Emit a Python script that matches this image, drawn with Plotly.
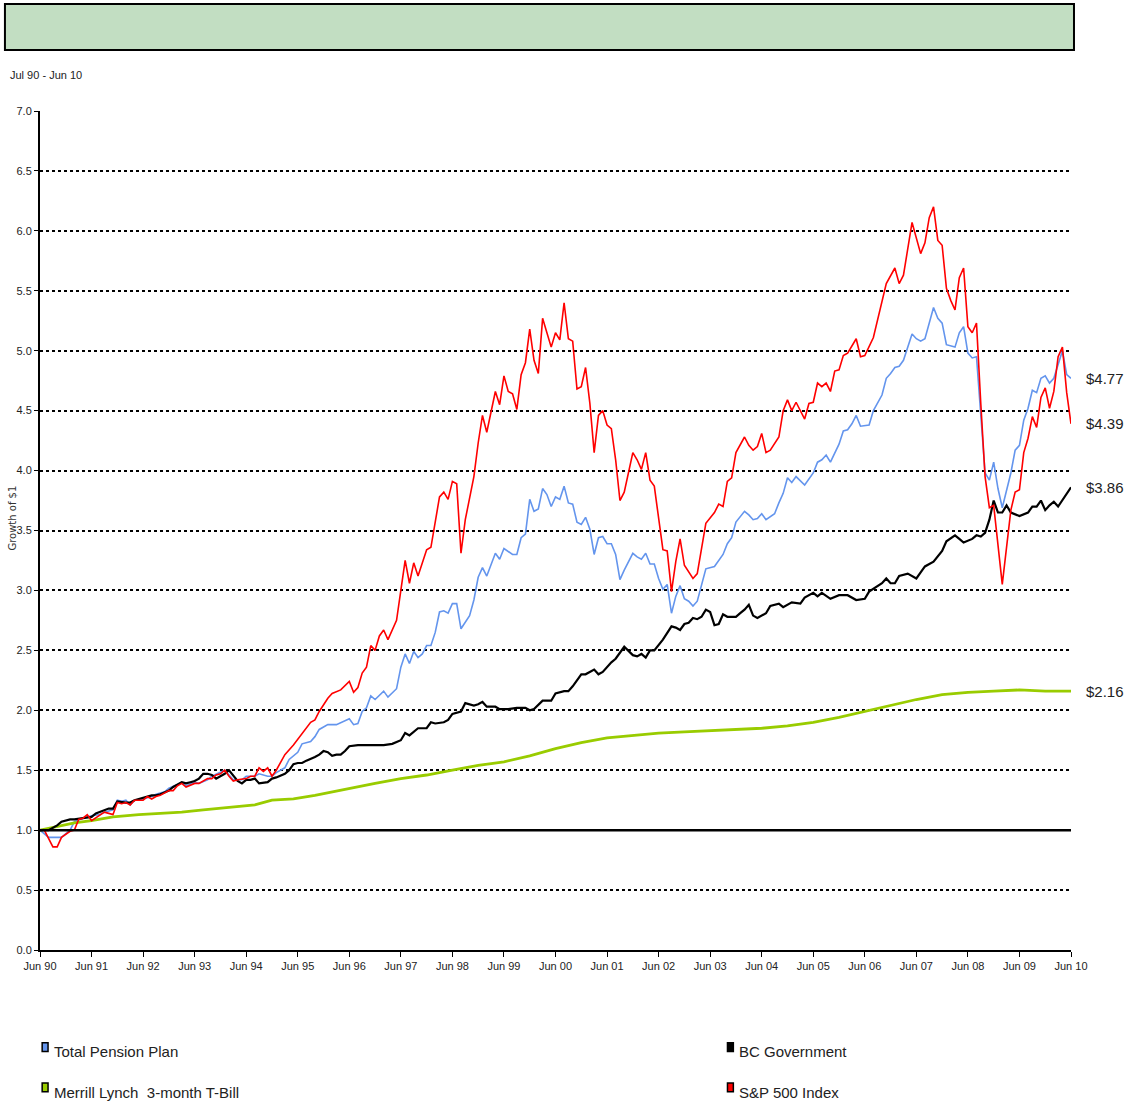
import plotly.graph_objects as go

# ---------------- data (month index: 0 = Jun 90 ... 240 = Jun 10) ----------------
TICK_MONTHS = [0, 12, 24, 36, 48, 60, 72, 84, 96, 108, 120, 132, 144, 156, 168, 180, 192, 204, 216, 228, 240]
TICK_LABELS = ["Jun 90", "Jun 91", "Jun 92", "Jun 93", "Jun 94", "Jun 95", "Jun 96", "Jun 97",
               "Jun 98", "Jun 99", "Jun 00", "Jun 01", "Jun 02", "Jun 03", "Jun 04", "Jun 05",
               "Jun 06", "Jun 07", "Jun 08", "Jun 09", "Jun 10"]

SP500 = [(0,1.00),(1,1.00),(3,0.86),(4,0.86),(5,0.94),(7,0.99),(8,1.00),(9,1.09),(10,1.10),(11,1.13),
         (12,1.08),(14,1.13),(15,1.15),(16,1.14),(17,1.13),(18,1.23),(19,1.22),(20,1.23),(21,1.21),(22,1.25),
         (24,1.25),(25,1.28),(26,1.26),(27,1.28),(28,1.29),(30,1.33),(31,1.33),(32,1.37),(33,1.39),(34,1.36),
         (36,1.39),(37,1.39),(39,1.43),(40,1.43),(41,1.46),(42,1.47),(43,1.50),(44,1.45),(45,1.41),(46,1.42),
         (48,1.43),(49,1.45),(50,1.45),(51,1.52),(52,1.49),(53,1.52),(54,1.45),(55,1.50),(56,1.56),(57,1.63),
         (59,1.71),(60,1.76),(62,1.86),(63,1.90),(64,1.92),(65,1.99),(67,2.10),(68,2.14),(70,2.17),(72,2.24),
         (73,2.15),(74,2.19),(75,2.31),(76,2.36),(77,2.54),(78,2.50),(79,2.62),(80,2.67),(81,2.59),(83,2.75),
         (84,3.00),(85,3.25),(86,3.06),(87,3.23),(88,3.12),(90,3.34),(91,3.36),(92,3.56),(93,3.78),(94,3.82),
         (95,3.76),(96,3.91),(97,3.89),(98,3.31),(99,3.59),(101,3.95),(102,4.23),(103,4.46),(104,4.32),(106,4.66),
         (107,4.55),(108,4.79),(109,4.66),(110,4.64),(111,4.51),(112,4.80),(113,4.90),(114,5.18),(115,4.92),(116,4.81),
         (117,5.27),(118,5.15),(119,5.03),(120,5.15),(121,5.09),(122,5.40),(123,5.10),(124,5.08),(125,4.68),(126,4.70),
         (127,4.86),(128,4.56),(129,4.15),(130,4.46),(131,4.50),(132,4.38),(133,4.35),(134,4.09),(135,3.75),(136,3.82),
         (138,4.15),(139,4.09),(140,4.01),(141,4.15),(142,3.92),(143,3.87),(145,3.34),(146,3.33),(147,2.99),(148,3.24),
         (149,3.43),(150,3.21),(151,3.15),(152,3.10),(153,3.14),(154,3.34),(155,3.56),(157,3.65),(158,3.72),(159,3.70),
         (160,3.91),(161,3.94),(162,4.15),(164,4.28),(165,4.21),(166,4.17),(167,4.20),(168,4.31),(169,4.15),(170,4.17),
         (172,4.28),(173,4.50),(174,4.59),(175,4.50),(176,4.57),(178,4.43),(179,4.56),(180,4.57),(181,4.73),(182,4.70),
         (183,4.73),(184,4.66),(185,4.83),(186,4.84),(187,4.96),(188,4.98),(190,5.10),(191,4.95),(192,4.96),(194,5.11),
         (196,5.42),(197,5.56),(199,5.69),(200,5.56),(201,5.63),(203,6.07),(205,5.81),(206,5.90),(207,6.11),(208,6.20),
         (209,5.92),(210,5.88),(211,5.52),(212,5.42),(213,5.34),(214,5.61),(215,5.69),(216,5.20),(217,5.15),(218,5.23),
         (219,4.56),(220,3.95),(221,3.69),(222,3.71),(224,3.05),(226,3.67),(227,3.82),(228,3.84),(229,4.15),(230,4.27),
         (231,4.45),(232,4.36),(233,4.61),(234,4.69),(235,4.52),(236,4.66),(237,4.95),(238,5.03),(239,4.65),(240,4.39)]

PENSION = [(0,1.00),(2,0.94),(5,0.94),(6,0.97),(7,1.00),(8,1.07),(10,1.10),(12,1.12),(14,1.13),(15,1.15),
           (17,1.17),(18,1.25),(19,1.24),(20,1.25),(21,1.21),(22,1.25),(24,1.26),(26,1.28),(27,1.30),(29,1.32),
           (30,1.35),(32,1.38),(33,1.40),(34,1.37),(36,1.40),(37,1.39),(39,1.42),(40,1.45),(42,1.48),(43,1.50),
           (45,1.42),(47,1.42),(48,1.45),(50,1.45),(51,1.47),(53,1.45),(54,1.45),(55,1.48),(57,1.52),(58,1.59),
           (60,1.65),(61,1.72),(63,1.74),(64,1.78),(65,1.84),(67,1.88),(69,1.88),(72,1.93),(73,1.88),(74,1.89),
           (75,1.99),(76,2.02),(77,2.12),(78,2.09),(80,2.16),(81,2.11),(83,2.18),(84,2.36),(85,2.47),(86,2.39),
           (87,2.49),(88,2.44),(89,2.47),(90,2.54),(91,2.54),(92,2.65),(93,2.82),(94,2.83),(95,2.81),(96,2.89),
           (97,2.89),(98,2.68),(100,2.79),(101,2.92),(102,3.11),(103,3.19),(104,3.12),(106,3.31),(107,3.26),(108,3.35),
           (110,3.30),(111,3.30),(112,3.44),(113,3.47),(114,3.76),(115,3.66),(116,3.68),(117,3.85),(118,3.80),(119,3.70),
           (120,3.78),(121,3.76),(122,3.87),(123,3.73),(124,3.72),(125,3.57),(126,3.55),(127,3.61),(128,3.51),(129,3.30),
           (130,3.44),(131,3.45),(132,3.39),(133,3.39),(134,3.30),(135,3.09),(136,3.17),(138,3.31),(139,3.28),(140,3.26),
           (141,3.31),(142,3.22),(143,3.22),(144,3.10),(145,3.01),(146,3.05),(147,2.81),(148,2.95),(149,3.04),(150,2.93),
           (151,2.91),(152,2.87),(153,2.91),(154,3.05),(155,3.18),(157,3.20),(158,3.25),(159,3.30),(160,3.39),(161,3.44),
           (162,3.57),(164,3.66),(165,3.63),(166,3.59),(167,3.60),(168,3.64),(169,3.59),(171,3.64),(172,3.73),(173,3.81),
           (174,3.94),(175,3.90),(176,3.95),(178,3.88),(180,3.98),(181,4.07),(182,4.09),(183,4.13),(184,4.07),(186,4.22),
           (187,4.33),(188,4.34),(189,4.39),(190,4.46),(191,4.37),(193,4.38),(194,4.50),(196,4.63),(197,4.77),(198,4.81),
           (199,4.86),(200,4.87),(201,4.92),(202,5.03),(203,5.14),(204,5.10),(205,5.08),(206,5.10),(207,5.23),(208,5.36),
           (209,5.27),(210,5.23),(211,5.05),(212,5.04),(213,5.03),(214,5.15),(215,5.20),(216,4.98),(217,4.94),(218,4.95),
           (219,4.45),(220,3.98),(221,3.92),(222,4.07),(223,3.85),(224,3.69),(226,3.98),(227,4.17),(228,4.21),(229,4.42),
           (230,4.52),(231,4.67),(232,4.65),(233,4.77),(234,4.79),(235,4.73),(236,4.77),(237,4.88),(238,5.00),(239,4.80),
           (240,4.77)]

BC_GOV = [(0,1.00),(2,1.00),(4,1.04),(5,1.07),(7,1.09),(8,1.09),(10,1.10),(12,1.11),(13,1.14),(15,1.17),
          (16,1.18),(17,1.18),(18,1.24),(20,1.23),(21,1.23),(22,1.25),(24,1.27),(26,1.29),(27,1.29),(28,1.30),
          (30,1.33),(31,1.36),(33,1.40),(34,1.39),(35,1.40),(36,1.41),(37,1.43),(38,1.47),(39,1.47),(40,1.46),
          (41,1.43),(43,1.47),(44,1.50),(45,1.45),(46,1.41),(47,1.39),(48,1.42),(49,1.42),(50,1.43),(51,1.39),
          (53,1.40),(54,1.43),(55,1.44),(57,1.47),(58,1.50),(59,1.55),(60,1.56),(61,1.56),(62,1.58),(64,1.61),
          (65,1.63),(66,1.66),(67,1.65),(68,1.62),(69,1.63),(70,1.63),(71,1.66),(72,1.70),(74,1.71),(76,1.71),
          (78,1.71),(80,1.71),(82,1.72),(84,1.75),(85,1.81),(86,1.79),(88,1.85),(90,1.85),(91,1.90),(92,1.89),
          (94,1.90),(95,1.92),(96,1.97),(98,1.99),(99,2.06),(101,2.04),(102,2.05),(103,2.07),(104,2.03),(106,2.03),
          (107,2.01),(109,2.01),(111,2.02),(113,2.02),(114,2.00),(115,2.01),(117,2.08),(119,2.08),(120,2.14),(122,2.16),
          (123,2.16),(124,2.20),(126,2.30),(127,2.30),(129,2.34),(130,2.30),(131,2.32),(133,2.40),(134,2.43),(135,2.48),
          (136,2.53),(138,2.46),(139,2.45),(140,2.47),(141,2.44),(142,2.50),(143,2.50),(145,2.59),(146,2.64),(147,2.70),
          (148,2.69),(149,2.67),(150,2.72),(151,2.73),(152,2.77),(153,2.76),(154,2.78),(155,2.84),(156,2.82),(157,2.71),
          (158,2.72),(159,2.80),(160,2.78),(162,2.78),(163,2.81),(164,2.84),(165,2.88),(166,2.79),(167,2.77),(169,2.81),
          (170,2.87),(172,2.89),(173,2.86),(175,2.90),(177,2.89),(178,2.94),(180,2.98),(181,2.95),(182,2.98),(184,2.93),
          (186,2.96),(188,2.96),(190,2.92),(192,2.93),(193,2.99),(195,3.04),(196,3.06),(197,3.10),(198,3.06),(199,3.06),
          (200,3.12),(202,3.14),(204,3.10),(205,3.15),(206,3.20),(208,3.24),(210,3.33),(211,3.41),(213,3.46),(214,3.43),
          (215,3.40),(217,3.43),(218,3.46),(219,3.45),(220,3.48),(221,3.59),(222,3.75),(223,3.65),(224,3.65),(225,3.71),
          (226,3.65),(228,3.62),(230,3.65),(231,3.70),(232,3.70),(233,3.75),(234,3.67),(235,3.71),(236,3.74),(237,3.70),
          (238,3.75),(240,3.86)]

TBILL = [(0,1.00),(5,1.04),(8,1.06),(12,1.08),(17,1.11),(23,1.13),(28,1.14),(33,1.15),(38,1.17),(44,1.19),
         (50,1.21),(54,1.25),(59,1.26),(64,1.29),(72,1.35),(78,1.39),(84,1.43),(90,1.46),(96,1.50),(102,1.54),
         (108,1.57),(114,1.62),(120,1.68),(126,1.73),(132,1.77),(138,1.79),(144,1.81),(150,1.82),(156,1.83),(162,1.84),
         (168,1.85),(174,1.87),(180,1.90),(186,1.94),(192,1.99),(198,2.04),(204,2.09),(210,2.13),(216,2.15),(222,2.16),
         (228,2.17),(234,2.16),(240,2.16)]

BASELINE = 1.0

SERIES = [
    ("Total Pension Plan", PENSION, "#6495ED", 1.6),
    ("Merrill Lynch  3-month T-Bill", TBILL, "#99CC00", 2.8),
    ("BC Government", BC_GOV, "#000000", 2.2),
    ("S&P 500 Index", SP500, "#FF0000", 1.6),
]

FONT = "Liberation Sans, Arial, sans-serif"

fig = go.Figure()
for name, pts, color, w in SERIES:
    fig.add_trace(go.Scatter(x=[p[0] for p in pts], y=[p[1] for p in pts], mode="lines",
                             name=name, line=dict(color=color, width=w), showlegend=False))

# baseline at $1
fig.add_hline(y=BASELINE, line=dict(color="black", width=2.5), layer="above")

# end-value labels
for name, pts, color, w in SERIES:
    fig.add_annotation(x=pts[-1][0], y=pts[-1][1], xref="x", yref="y", text=f"${pts[-1][1]:.2f}",
                       showarrow=False, xanchor="left", xshift=13,
                       font=dict(family=FONT, size=15, color="#222"))

# header box
fig.add_shape(type="rect", xref="paper", yref="paper", x0=-0.034, x1=1.0029, y0=1.0727, y1=1.1275,
              fillcolor="#C2DEC2", line=dict(color="black", width=2), layer="above")

fig.add_annotation(text="Jul 90 - Jun 10", xref="paper", yref="paper", x=-0.031, y=1.0435,
                   xanchor="left", yanchor="middle", showarrow=False,
                   font=dict(family=FONT, size=11, color="#222"))

fig.add_annotation(text="Growth of $1", xref="paper", yref="paper", x=-0.0265, y=0.515,
                   textangle=-90, showarrow=False, xanchor="center", yanchor="middle",
                   font=dict(family="DejaVu Sans, sans-serif", size=10, color="#333"))

# custom legend (two columns)
legend_pos = {
    "Total Pension Plan": (0.0118, -0.1215),
    "Merrill Lynch  3-month T-Bill": (0.0118, -0.1695),
    "BC Government": (0.6765, -0.1215),
    "S&P 500 Index": (0.6765, -0.1695),
}
for name, pts, color, w in SERIES:
    lx, ly = legend_pos[name]
    fig.add_annotation(text=name, xref="paper", yref="paper", x=lx, y=ly, xanchor="left",
                       yanchor="middle", showarrow=False, font=dict(family=FONT, size=15, color="#222"))
    fig.add_shape(type="rect", xref="paper", yref="paper",
                  x0=lx - 0.0097, x1=lx - 0.004, y0=ly + 0.0005, y1=ly + 0.011,
                  fillcolor=color, line=dict(color="black", width=1.5))

fig.update_layout(
    width=1127, height=1103,
    margin=dict(l=40, r=56, t=111, b=153),
    paper_bgcolor="white", plot_bgcolor="white",
    font=dict(family=FONT, color="#222"),
    xaxis=dict(range=[0, 240], tickvals=TICK_MONTHS, ticktext=TICK_LABELS, showgrid=False,
               showline=True, linecolor="black", linewidth=2, ticks="outside", ticklen=5,
               tickcolor="black", tickfont=dict(family=FONT, size=11, color="#222"),
               zeroline=False, fixedrange=True),
    yaxis=dict(range=[0, 7], dtick=0.5, tickformat=".1f", showgrid=True, gridcolor="black",
               griddash="dot", gridwidth=1.5, showline=True, linecolor="black", linewidth=2,
               ticks="outside", ticklen=4, tickcolor="black", zeroline=False,
               tickfont=dict(family=FONT, size=11, color="#222"), fixedrange=True),
)

fig.write_html("out.html", config={"displayModeBar": False},
               post_script="document.body.style.margin='0';")
